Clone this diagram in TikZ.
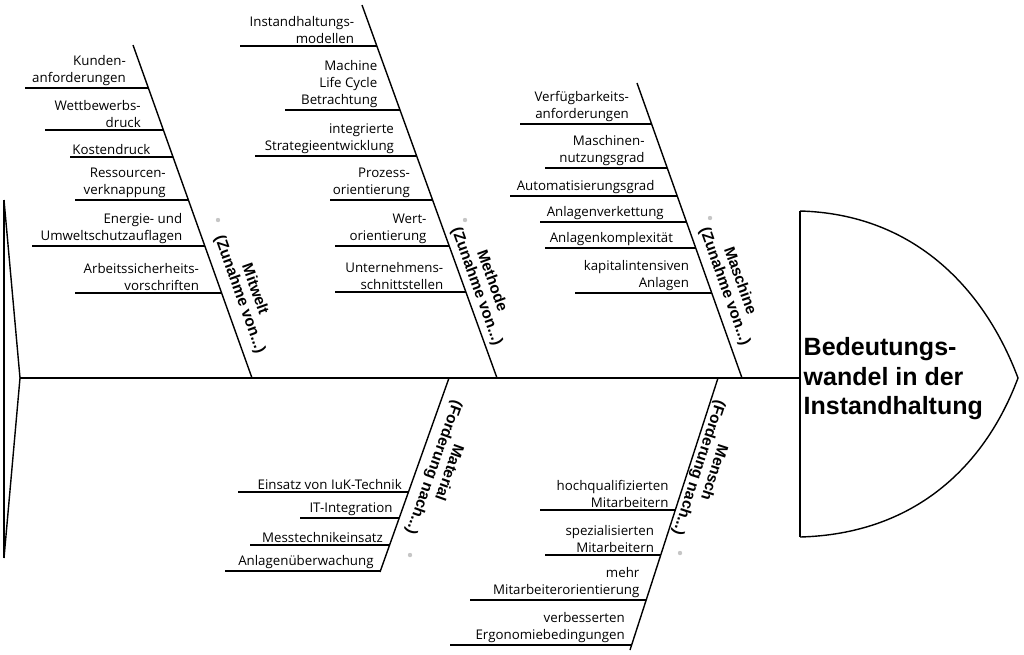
\documentclass[tikz,border=0pt]{standalone}
\usepackage{fontspec}
\setmainfont{Open Sans}
\newfontfamily\lab{Liberation Sans}
\begin{document}
\begin{tikzpicture}[x=1pt,y=-1pt,line width=1.4pt,
  item/.style={font=\fontsize{13.3}{17}\selectfont, align=right, inner sep=1pt},
  blab/.style={font=\lab\bfseries\fontsize{15.5}{16}\selectfont, align=center, inner sep=0pt},
  dot/.style={fill=gray!45, draw=none}]
\useasboundingbox (0,0) rectangle (1024,654);
\newcommand\upitem[5]{\pgfmathsetmacro\xb{#1-#2*(378-#3)}\pgfmathsetmacro\xt{\xb-21}
  \draw (#4,#3) -- (\xb,#3); \node[item,anchor=south east] at (\xt,#3-1) {#5};}
\newcommand\loitem[5]{\pgfmathsetmacro\xb{#1-#2*(#3-378)}\pgfmathsetmacro\xt{\xb-5}
  \draw (#4,#3) -- (\xb,#3); \node[item,anchor=south east] at (\xt,#3-1) {#5};}
% tail and spine
\coordinate (t1) at (4,200); \coordinate (t2) at (4,558); \coordinate (s0) at (20,378);
\coordinate (s1) at (800,378);
\draw (t1) -- (t2); \draw (t1) -- (s0) -- (t2);
\draw (s0) -- (s1);
% head
\coordinate (h1) at (800,211); \coordinate (h2) at (800,537); \coordinate (tip) at (1018,378);
\draw (h1) -- (h2);
\draw (h1) .. controls (915,214) and (985,290) .. (tip) .. controls (985,466) and (915,534) .. (h2);
\node[font=\lab\bfseries\fontsize{25}{29.5}\selectfont, align=left, anchor=west, inner sep=0pt] (head) at (803,379) {Bedeutungs-\\wandel in der\\Instandhaltung};
% bones
\coordinate (m1a) at (252,378); \coordinate (m1b) at (133,45);
\coordinate (m2a) at (497,378); \coordinate (m2b) at (362,5);
\coordinate (m3a) at (742,378); \coordinate (m3b) at (637,83);
\coordinate (m4a) at (449,378); \coordinate (m4b) at (380,572);
\coordinate (m5a) at (718,378); \coordinate (m5b) at (630,650);
\draw (m1a) -- (m1b); \draw (m2a) -- (m2b); \draw (m3a) -- (m3b);
\draw (m4a) -- (m4b); \draw (m5a) -- (m5b);
% bone labels
\node[blab, rotate=-70.3] (L1) at (247,292) {Mitwelt\\(Zunahme von...)};
\node[blab, rotate=-70.1] (L2) at (484,284) {Methode\\(Zunahme von...)};
\node[blab, rotate=-70.4] (L3) at (732,284) {Maschine\\(Zunahme von...)};
\node[blab, rotate=-109.6] (L4) at (441,470) {Material\\(Forderung nach...)};
\node[blab, rotate=-107.9] (L5) at (706,470) {Mensch\\(Forderung nach...)};
\fill[dot] (218,220) circle (2.2); \fill[dot] (465,220) circle (2.2);
\fill[dot] (710,218) circle (2.2); \fill[dot] (410,555) circle (2.2);
\fill[dot] (680,553) circle (2.2);
% Mitwelt items
\upitem{252}{0.357}{88}{25}{Kunden-\\anforderungen}
\upitem{252}{0.357}{130}{45}{Wettbewerbs-\\druck}
\upitem{252}{0.357}{157}{70}{Kostendruck}
\upitem{252}{0.357}{200}{75}{Ressourcen-\\verknappung}
\upitem{252}{0.357}{246}{32}{Energie- und\\Umweltschutzauflagen}
\upitem{252}{0.357}{293}{75}{Arbeitssicherheits-\\vorschriften}
% Methode items
\upitem{497}{0.362}{46}{240}{Instandhaltungs-\\modellen}
\upitem{497}{0.362}{110}{285}{Machine\\Life Cycle\\Betrachtung}
\upitem{497}{0.362}{156}{255}{integrierte\\Strategieentwicklung}
\upitem{497}{0.362}{200}{330}{Prozess-\\orientierung}
\upitem{497}{0.362}{246}{335}{Wert-\\orientierung}
\upitem{497}{0.362}{292}{335}{Unternehmens-\\schnittstellen}
% Maschine items
\upitem{742}{0.356}{124}{520}{Verfügbarkeits-\\anforderungen}
\upitem{742}{0.356}{168}{545}{Maschinen-\\nutzungsgrad}
\upitem{742}{0.356}{196}{510}{Automatisierungsgrad}
\upitem{742}{0.356}{222}{540}{Anlagenverkettung}
\upitem{742}{0.356}{248}{545}{Anlagenkomplexität}
\upitem{742}{0.356}{293}{575}{kapitalintensiven\\Anlagen}
% Material items
\loitem{449}{0.356}{492}{238}{Einsatz von IuK-Technik}
\loitem{449}{0.356}{518}{300}{IT-Integration}
\loitem{449}{0.356}{545}{250}{Messtechnikeinsatz}
\loitem{449}{0.356}{571}{225}{Anlagenüberwachung}
% Mensch items
\loitem{718}{0.324}{510}{540}{hochqualifizierten\\Mitarbeitern}
\loitem{718}{0.324}{555}{545}{spezialisierten\\Mitarbeitern}
\loitem{718}{0.324}{600}{470}{mehr\\Mitarbeiterorientierung}
\loitem{718}{0.324}{645}{450}{verbesserten\\Ergonomiebedingungen}
\end{tikzpicture}
\end{document}
